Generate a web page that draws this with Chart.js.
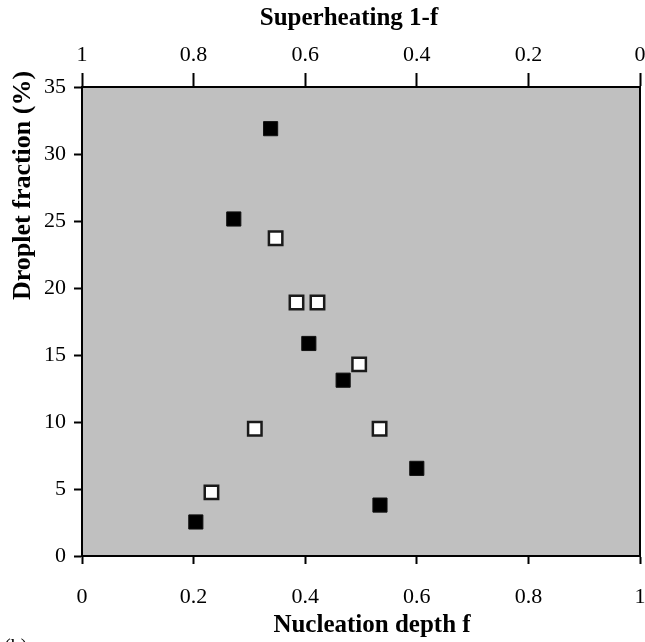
<!DOCTYPE html>
<html>
<head>
<meta charset="utf-8">
<script src="https://cdn.jsdelivr.net/npm/chart.js@4.4.1/dist/chart.umd.min.js"></script>
<style>
  html, body { margin: 0; padding: 0; background: #ffffff; }
  #wrap { width: 645px; height: 642px; position: relative; }
</style>
</head>
<body>
<div id="wrap"><canvas id="c" width="645" height="642"></canvas></div>
<script>
// ---- data ----
const filledX = [0.338, 0.272, 0.4065, 0.468, 0.600, 0.534, 0.204];
const filledY = [31.89, 25.15, 15.86, 13.12, 6.54, 3.80, 2.54];
const openX   = [0.347, 0.3844, 0.422, 0.4967, 0.3097, 0.5333, 0.232];
const openY   = [23.71, 18.92, 18.92, 14.30, 9.49, 9.49, 4.75];

const bottomTickLabels = ['0', '0.2', '0.4', '0.6', '0.8', '1'];
const topTickLabels    = ['1', '0.8', '0.6', '0.4', '0.2', '0'];
const yTickLabels      = ['0', '5', '10', '15', '20', '25', '30', '35'];

const xTitle  = 'Nucleation depth f';
const x2Title = 'Superheating 1-f';
const yTitle  = 'Droplet fraction (%)';
const panelLabel = '(b)';

const SERIF = '"Liberation Serif", "Times New Roman", serif';
const PLOT_RIGHT = 640;

function pts(xs, ys) { return xs.map((x, i) => ({ x: x, y: ys[i] })); }

function pin(size, horizontal) {
  return function (scale) {
    scale.paddingLeft = 0; scale.paddingRight = 0;
    scale.paddingTop = 0; scale.paddingBottom = 0;
    if (horizontal) scale.height = size; else scale.width = size;
  };
}

const plotFrame = {
  id: 'plotFrame',
  afterLayout(chart) {
    // let the plot area run to the right edge as in the reference
    chart.chartArea.right = PLOT_RIGHT;
    chart.chartArea.width = PLOT_RIGHT - chart.chartArea.left;
    ['x', 'x2'].forEach(id => {
      const s = chart.scales[id];
      s.right = PLOT_RIGHT;
      s.width = PLOT_RIGHT - s.left;
      s.configure();
    });
  },
  beforeDraw(chart) {
    const a = chart.chartArea, ctx = chart.ctx;
    ctx.save();
    ctx.fillStyle = '#c0c0c0';
    ctx.fillRect(a.left, a.top, a.right - a.left, a.bottom - a.top);
    ctx.restore();
  },
  afterDraw(chart) {
    const a = chart.chartArea, ctx = chart.ctx;
    ctx.save();
    ctx.strokeStyle = '#000';
    ctx.lineWidth = 2;
    ctx.beginPath();
    ctx.moveTo(a.right, a.top);
    ctx.lineTo(a.right, a.bottom);
    ctx.stroke();

    ctx.fillStyle = '#000';
    ctx.font = 'bold 25px ' + SERIF;
    ctx.textBaseline = 'alphabetic';
    ctx.textAlign = 'center';
    ctx.fillText(x2Title, 349, 25);
    ctx.fillText(xTitle, 372, 632);
    ctx.save();
    ctx.font = 'bold 26px ' + SERIF;
    ctx.translate(30, 300);
    ctx.rotate(-Math.PI / 2);
    ctx.textAlign = 'left';
    ctx.fillText(yTitle, 0, 0);
    ctx.restore();

    ctx.font = '20px ' + SERIF;
    ctx.textBaseline = 'top';
    ctx.textAlign = 'left';
    ctx.fillText(panelLabel, 4, 638);
    ctx.restore();
  }
};

const tickFont = { family: SERIF, size: 22 };

new Chart(document.getElementById('c'), {
  type: 'scatter',
  data: {
    datasets: [
      {
        label: 'filled',
        data: pts(filledX, filledY),
        pointStyle: 'rect',
        pointRadius: 10,
        pointHoverRadius: 10,
        backgroundColor: '#000000',
        borderColor: '#111111',
        borderWidth: 1
      },
      {
        label: 'open',
        data: pts(openX, openY),
        pointStyle: 'rect',
        pointRadius: 9.5,
        pointHoverRadius: 9.5,
        backgroundColor: '#ffffff',
        borderColor: '#1a1a1a',
        borderWidth: 2.5
      }
    ]
  },
  options: {
    responsive: false,
    animation: false,
    devicePixelRatio: 1,
    layout: { padding: { left: 0, right: 5, top: 0, bottom: 0 } },
    plugins: { legend: { display: false }, tooltip: { enabled: false } },
    scales: {
      x: {
        type: 'linear', position: 'bottom', min: 0, max: 1,
        afterFit: pin(86, true),
        ticks: {
          stepSize: 0.2, color: '#000', font: tickFont, padding: 20, maxRotation: 0,
          callback: (v, i) => bottomTickLabels[i]
        },
        grid: { drawOnChartArea: false, drawTicks: true, tickLength: 8, tickWidth: 2, tickColor: '#000' },
        border: { display: true, color: '#000', width: 2 },
        title: { display: false, text: xTitle }
      },
      x2: {
        type: 'linear', position: 'top', min: 0, max: 1, reverse: true,
        afterFit: pin(87, true),
        ticks: {
          stepSize: 0.2, color: '#000', font: tickFont, padding: 5, maxRotation: 0,
          callback: (v, i) => topTickLabels[i]
        },
        grid: { drawOnChartArea: false, drawTicks: true, tickLength: 14, tickWidth: 2, tickColor: '#000' },
        border: { display: true, color: '#000', width: 2 },
        title: { display: false, text: x2Title }
      },
      y: {
        type: 'linear', position: 'left', min: 0, max: 35,
        afterFit: pin(82, false),
        ticks: {
          stepSize: 5, color: '#000', font: tickFont, padding: 8,
          callback: (v, i) => yTickLabels[i]
        },
        grid: { drawOnChartArea: false, drawTicks: true, tickLength: 8, tickWidth: 2, tickColor: '#000' },
        border: { display: true, color: '#000', width: 2 },
        title: { display: false, text: yTitle }
      }
    }
  },
  plugins: [plotFrame]
});
</script>
</body>
</html>
